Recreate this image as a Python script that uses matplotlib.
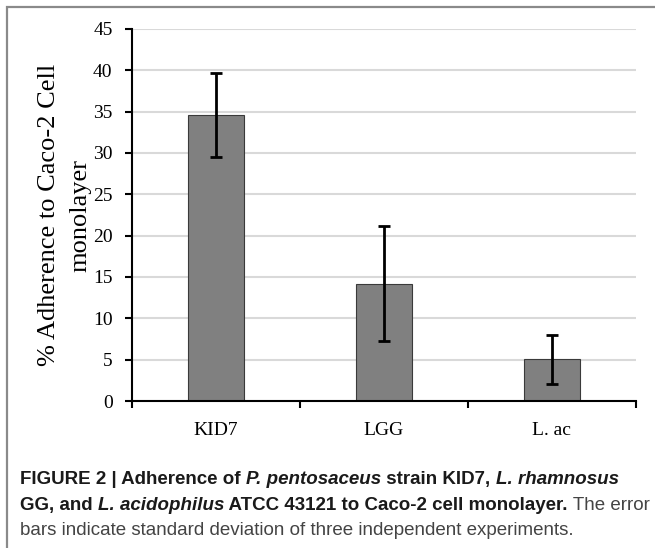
import matplotlib
matplotlib.use("Agg")
import matplotlib.pyplot as plt
from matplotlib.patches import Rectangle
import numpy as np

# data
strains = ["KID7", "LGG", "L. ac"]
adherence = [34.6, 14.2, 5.05]
sd = [5.05, 7.0, 2.95]
yticks = [0, 5, 10, 15, 20, 25, 30, 35, 40, 45]

W, H = 655, 548
fig = plt.figure(figsize=(W / 100, H / 100), dpi=100)

# outer frame of the figure panel (open at right and bottom)
fig.patches.append(Rectangle((7 / W, -0.1), 1.2, 1 - 7 / H + 0.1,
                             transform=fig.transFigure, fill=False,
                             edgecolor="#8a8a8a", linewidth=1.6))

ax = fig.add_axes([132 / W, 1 - 401 / H, (636 - 132) / W, (401 - 29) / H])
x = np.arange(len(strains))
ax.bar(x, adherence, width=0.33, color="#808080", edgecolor="#3a3a3a",
       linewidth=0.8, zorder=2)
ax.errorbar(x, adherence, yerr=sd, fmt="none", ecolor="black",
            elinewidth=2, capsize=4, capthick=2, zorder=3)

ax.set_xlim(-0.5, len(strains) - 0.5)
ax.set_ylim(0, 45)
ax.set_yticks(yticks)
ax.yaxis.grid(True, color="#d9d9d9", linewidth=1.5, zorder=0)
ax.set_axisbelow(True)

serif = "Liberation Serif"
ax.set_yticklabels([str(t) for t in yticks], fontfamily=serif, fontsize=14)
ax.set_xticks(x)
ax.set_xticklabels(strains, fontfamily=serif, fontsize=14)
ax.tick_params(axis="x", length=0, pad=15)
ax.set_xticks(np.arange(len(strains) + 1) - 0.5, minor=True)
ax.tick_params(axis="x", which="minor", length=5, width=1.5, direction="out")
ax.tick_params(axis="y", length=5, width=1.5, direction="out", pad=9)

for s in ["top", "right"]:
    ax.spines[s].set_visible(False)
for s in ["left", "bottom"]:
    ax.spines[s].set_linewidth(1.5)

ax.set_ylabel("% Adherence to Caco-2 Cell\nmonolayer", fontfamily=serif,
              fontsize=19, linespacing=1.55, labelpad=1)

# caption with mixed bold / italic pieces
sans = "Liberation Sans"
cap_size = 13.5
lines = [
    [("FIGURE 2 | Adherence of ", "bold", "normal", "#1a1a1a"),
     ("P. pentosaceus", "bold", "italic", "#1a1a1a"),
     (" strain KID7, ", "bold", "normal", "#1a1a1a"),
     ("L. rhamnosus", "bold", "italic", "#1a1a1a")],
    [("GG, and ", "bold", "normal", "#1a1a1a"),
     ("L. acidophilus", "bold", "italic", "#1a1a1a"),
     (" ATCC 43121 to Caco-2 cell monolayer.", "bold", "normal", "#1a1a1a"),
     (" The error", "normal", "normal", "#444444")],
    [("bars indicate standard deviation of three independent experiments.",
      "normal", "normal", "#444444")],
]
baselines = [484, 510, 535]
fig.canvas.draw()
renderer = fig.canvas.get_renderer()
for pieces, yb in zip(lines, baselines):
    xpos = 20
    for txt, weight, style, col in pieces:
        t = fig.text(xpos / W, 1 - yb / H, txt, fontfamily=sans,
                     fontsize=cap_size, fontweight=weight, fontstyle=style,
                     color=col, va="baseline", ha="left")
        bb = t.get_window_extent(renderer=renderer)
        xpos += bb.width

fig.savefig("out.png", dpi=100)
